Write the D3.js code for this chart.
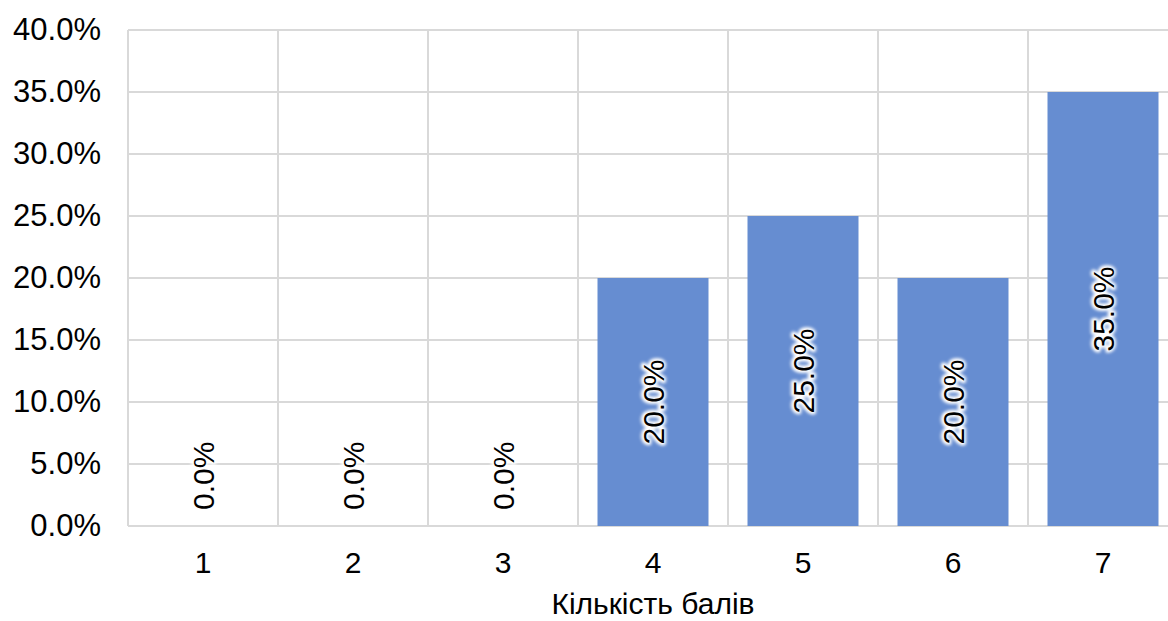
<!DOCTYPE html>
<html><head><meta charset="utf-8">
<script src="https://cdn.jsdelivr.net/npm/d3@7"></script>
<style>body{margin:0;background:#fff}svg{display:block}text{font-family:"Liberation Sans",Arial,sans-serif}</style>
</head><body>
<svg id="c" width="1168" height="621"></svg>
<script>
const categories = ["1","2","3","4","5","6","7"];
const values = [0, 0, 0, 20, 25, 20, 35];
const yTicks = [0,5,10,15,20,25,30,35,40];
const xTitle = "Кількість балів";

const FS = 30;
const svg = d3.select("#c");
const m = {left:128, right:1178, top:30, bottom:526};
const x = d3.scaleBand().domain(categories).range([m.left, m.right]).paddingInner(0.26).paddingOuter(0.13);
const xb = d3.scaleBand().domain(categories).range([m.left, m.right]);
const y = d3.scaleLinear().domain([0,40]).range([m.bottom, m.top]);

const defs = svg.append("defs");
const f = defs.append("filter").attr("id","glow").attr("x","-20%").attr("y","-20%").attr("width","140%").attr("height","140%");
f.append("feGaussianBlur").attr("stdDeviation",1.6);

// horizontal grid
svg.append("g").selectAll("line").data(yTicks).join("line")
  .attr("x1", m.left).attr("x2", m.right)
  .attr("y1", d=>y(d)).attr("y2", d=>y(d))
  .attr("stroke","#d9d9d9").attr("stroke-width",2);
// vertical grid (category boundaries)
const bounds = categories.map(c=>xb(c)).concat([m.right]);
svg.append("g").selectAll("line").data(bounds).join("line")
  .attr("x1", d=>d).attr("x2", d=>d)
  .attr("y1", m.top).attr("y2", m.bottom)
  .attr("stroke","#d9d9d9").attr("stroke-width",2);

// bars
svg.append("g").selectAll("rect").data(values).join("rect")
  .attr("x",(d,i)=>x(categories[i]))
  .attr("width", x.bandwidth())
  .attr("y", d=>y(d)).attr("height", d=>y(0)-y(d))
  .attr("fill","#668dd1");

// y axis labels
const yAxis = d3.axisLeft(y).tickValues(yTicks).tickFormat(d=>d.toFixed(1)+"%").tickSize(0).tickPadding(27);
const ga = svg.append("g").attr("transform",`translate(${m.left},0)`).call(yAxis);
ga.select(".domain").remove();
ga.selectAll("text").attr("font-size",31).attr("fill","#000").attr("font-family","Liberation Sans, Arial, sans-serif");

// x axis labels
const xAxis = d3.axisBottom(xb).tickSize(0).tickPadding(26);
const gx = svg.append("g").attr("transform",`translate(0,${m.bottom})`).call(xAxis);
gx.select(".domain").remove();
gx.selectAll("text").attr("font-size",FS).attr("fill","#000").attr("font-family","Liberation Sans, Arial, sans-serif");

// x title
svg.append("text").attr("x",(m.left+m.right)/2).attr("y",614)
  .attr("text-anchor","middle").attr("font-size",FS).attr("fill","#000").text(xTitle);

// data labels
const lg = svg.append("g");
values.forEach((v,i)=>{
  const cx = xb(categories[i]) + xb.bandwidth()/2;
  const txt = v.toFixed(1)+"%";
  let ty, anchor;
  if (v === 0) { ty = y(0) - 16; anchor = "start"; }
  else { ty = (y(v)+y(0))/2; anchor = "middle"; }
  const g = lg.append("g").attr("transform",`translate(${cx+10.5},${ty}) rotate(-90)`);
  g.append("text").attr("text-anchor",anchor).attr("font-size",FS)
    .attr("fill","#fff").attr("stroke","#fff").attr("stroke-width",5).attr("stroke-linejoin","round")
    .attr("filter","url(#glow)").text(txt);
  g.append("text").attr("text-anchor",anchor).attr("font-size",FS).attr("fill","#000").text(txt);
});
</script>
</body></html>
